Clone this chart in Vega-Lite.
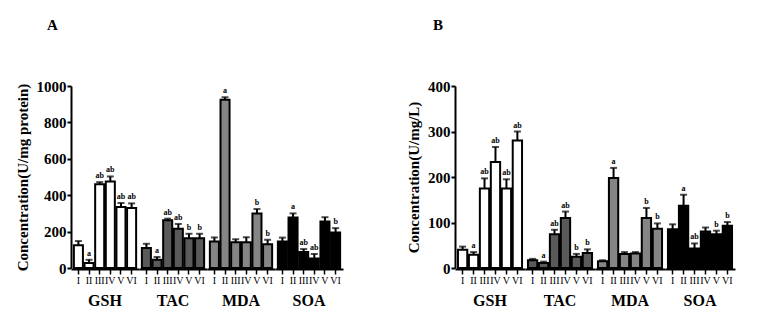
{
  "$schema": "https://vega.github.io/schema/vega-lite/v6.json",
  "background": "white",
  "padding": {"left": 15, "top": 18, "right": 2, "bottom": 5},
  "datasets": {
    "a": [
      {"group": "GSH", "bar": "I", "value": 125, "hi": 148, "sig": ""},
      {"group": "GSH", "bar": "II", "value": 28, "hi": 45, "sig": "a"},
      {"group": "GSH", "bar": "III", "value": 460, "hi": 472, "sig": "ab"},
      {"group": "GSH", "bar": "IV", "value": 475, "hi": 503, "sig": "ab"},
      {"group": "GSH", "bar": "V", "value": 335, "hi": 357, "sig": "ab"},
      {"group": "GSH", "bar": "VI", "value": 330, "hi": 355, "sig": "ab"},
      {"group": "TAC", "bar": "I", "value": 110, "hi": 133, "sig": ""},
      {"group": "TAC", "bar": "II", "value": 45, "hi": 60, "sig": "a"},
      {"group": "TAC", "bar": "III", "value": 262, "hi": 271, "sig": "ab"},
      {"group": "TAC", "bar": "IV", "value": 215, "hi": 242, "sig": "ab"},
      {"group": "TAC", "bar": "V", "value": 163, "hi": 188, "sig": "b"},
      {"group": "TAC", "bar": "VI", "value": 163, "hi": 188, "sig": "b"},
      {"group": "MDA", "bar": "I", "value": 145, "hi": 168, "sig": ""},
      {"group": "MDA", "bar": "II", "value": 925, "hi": 938, "sig": "a"},
      {"group": "MDA", "bar": "III", "value": 142, "hi": 158, "sig": ""},
      {"group": "MDA", "bar": "IV", "value": 142, "hi": 169, "sig": ""},
      {"group": "MDA", "bar": "V", "value": 300, "hi": 324, "sig": "b"},
      {"group": "MDA", "bar": "VI", "value": 130, "hi": 155, "sig": "b"},
      {"group": "SOA", "bar": "I", "value": 145, "hi": 167, "sig": ""},
      {"group": "SOA", "bar": "II", "value": 278, "hi": 300, "sig": "a"},
      {"group": "SOA", "bar": "III", "value": 88, "hi": 104, "sig": "ab"},
      {"group": "SOA", "bar": "IV", "value": 52, "hi": 77, "sig": "ab"},
      {"group": "SOA", "bar": "V", "value": 255, "hi": 279, "sig": ""},
      {"group": "SOA", "bar": "VI", "value": 195, "hi": 219, "sig": "b"}
    ],
    "b": [
      {"group": "GSH", "bar": "I", "value": 40, "hi": 47, "sig": ""},
      {"group": "GSH", "bar": "II", "value": 29, "hi": 35, "sig": "a"},
      {"group": "GSH", "bar": "III", "value": 175, "hi": 197, "sig": "ab"},
      {"group": "GSH", "bar": "IV", "value": 233, "hi": 266, "sig": "ab"},
      {"group": "GSH", "bar": "V", "value": 175, "hi": 195, "sig": "ab"},
      {"group": "GSH", "bar": "VI", "value": 280, "hi": 300, "sig": "ab"},
      {"group": "TAC", "bar": "I", "value": 17, "hi": 20, "sig": ""},
      {"group": "TAC", "bar": "II", "value": 11, "hi": 14, "sig": "a"},
      {"group": "TAC", "bar": "III", "value": 74, "hi": 84, "sig": "ab"},
      {"group": "TAC", "bar": "IV", "value": 110, "hi": 124, "sig": "ab"},
      {"group": "TAC", "bar": "V", "value": 25, "hi": 31, "sig": "b"},
      {"group": "TAC", "bar": "VI", "value": 33, "hi": 41, "sig": "b"},
      {"group": "MDA", "bar": "I", "value": 15, "hi": 17, "sig": ""},
      {"group": "MDA", "bar": "II", "value": 198, "hi": 220, "sig": "a"},
      {"group": "MDA", "bar": "III", "value": 31, "hi": 35, "sig": ""},
      {"group": "MDA", "bar": "IV", "value": 32, "hi": 35, "sig": ""},
      {"group": "MDA", "bar": "V", "value": 110, "hi": 132, "sig": "b"},
      {"group": "MDA", "bar": "VI", "value": 86, "hi": 98, "sig": "b"},
      {"group": "SOA", "bar": "I", "value": 85, "hi": 96, "sig": ""},
      {"group": "SOA", "bar": "II", "value": 137, "hi": 161, "sig": "a"},
      {"group": "SOA", "bar": "III", "value": 43, "hi": 54, "sig": "ab"},
      {"group": "SOA", "bar": "IV", "value": 80, "hi": 89, "sig": ""},
      {"group": "SOA", "bar": "V", "value": 74, "hi": 82, "sig": "b"},
      {"group": "SOA", "bar": "VI", "value": 93, "hi": 101, "sig": "b"}
    ]
  },
  "hconcat": [
    {
      "data": {"name": "a"},
      "title": {"text": "A", "anchor": "start", "frame": "group", "dx": -24, "offset": 46, "fontSize": 15, "font": "Liberation Serif", "fontWeight": "bold"},
      "facet": {
        "column": {
          "field": "group", "type": "nominal", "sort": ["GSH", "TAC", "MDA", "SOA"],
          "header": {"title": null, "labelOrient": "bottom", "labelPadding": 8, "labelFont": "Liberation Serif", "labelFontWeight": "bold", "labelFontSize": 16, "labelColor": "black"}
        }
      },
      "spacing": 0,
      "spec": {
        "width": 68, "height": 182,
        "encoding": {
          "x": {"field": "bar", "type": "nominal", "sort": ["I", "II", "III", "IV", "V", "VI"],
                "scale": {"paddingInner": 0.15, "paddingOuter": 0.27},
                "axis": {"title": null, "labelAngle": 0}}
        },
        "layer": [
          {
            "mark": {"type": "bar", "stroke": "black", "strokeWidth": 2},
            "encoding": {
              "y": {"field": "value", "type": "quantitative", "scale": {"domain": [0, 1000]},
                    "axis": {"title": "Concentration(U/mg protein)", "values": [0, 200, 400, 600, 800, 1000], "format": "d", "grid": false, "labelOverlap": false}},
              "fill": {"field": "group", "type": "nominal", "scale": {"domain": ["GSH", "TAC", "MDA", "SOA"], "range": ["white", "#5a5a5a", "#858585", "black"]}, "legend": null}
            }
          },
          {
            "mark": {"type": "rule", "color": "black", "strokeWidth": 2},
            "encoding": {"y": {"field": "value", "type": "quantitative",
                    "axis": {"title": "Concentration(U/mg protein)", "values": [0, 200, 400, 600, 800, 1000], "format": "d", "grid": false, "labelOverlap": false}}, "y2": {"field": "hi"}}
          },
          {
            "mark": {"type": "tick", "color": "black", "thickness": 2, "size": 7},
            "encoding": {"y": {"field": "hi", "type": "quantitative",
                    "axis": {"title": "Concentration(U/mg protein)", "values": [0, 200, 400, 600, 800, 1000], "format": "d", "grid": false, "labelOverlap": false}}}
          },
          {
            "mark": {"type": "text", "baseline": "bottom", "dy": -2, "fontSize": 8, "fontWeight": "bold", "font": "Liberation Serif", "color": "black"},
            "encoding": {"y": {"field": "hi", "type": "quantitative",
                    "axis": {"title": "Concentration(U/mg protein)", "values": [0, 200, 400, 600, 800, 1000], "format": "d", "grid": false, "labelOverlap": false}}, "text": {"field": "sig"}}
          }
        ]
      }
    },
    {
      "data": {"name": "b"},
      "title": {"text": "B", "anchor": "start", "frame": "group", "dx": -22, "offset": 46, "fontSize": 15, "font": "Liberation Serif", "fontWeight": "bold"},
      "facet": {
        "column": {
          "field": "group", "type": "nominal", "sort": ["GSH", "TAC", "MDA", "SOA"],
          "header": {"title": null, "labelOrient": "bottom", "labelPadding": 8, "labelFont": "Liberation Serif", "labelFontWeight": "bold", "labelFontSize": 16, "labelColor": "black"}
        }
      },
      "spacing": 0,
      "spec": {
        "width": 70, "height": 182,
        "encoding": {
          "x": {"field": "bar", "type": "nominal", "sort": ["I", "II", "III", "IV", "V", "VI"],
                "scale": {"paddingInner": 0.15, "paddingOuter": 0.27},
                "axis": {"title": null, "labelAngle": 0}}
        },
        "layer": [
          {
            "mark": {"type": "bar", "stroke": "black", "strokeWidth": 2},
            "encoding": {
              "y": {"field": "value", "type": "quantitative", "scale": {"domain": [0, 400]},
                    "axis": {"title": "Concentration(U/mg/L)", "values": [0, 100, 200, 300, 400], "grid": false, "labelOverlap": false}},
              "fill": {"field": "group", "type": "nominal", "scale": {"domain": ["GSH", "TAC", "MDA", "SOA"], "range": ["white", "#5a5a5a", "#858585", "black"]}, "legend": null}
            }
          },
          {
            "mark": {"type": "rule", "color": "black", "strokeWidth": 2},
            "encoding": {"y": {"field": "value", "type": "quantitative",
                    "axis": {"title": "Concentration(U/mg/L)", "values": [0, 100, 200, 300, 400], "grid": false, "labelOverlap": false}}, "y2": {"field": "hi"}}
          },
          {
            "mark": {"type": "tick", "color": "black", "thickness": 2, "size": 7},
            "encoding": {"y": {"field": "hi", "type": "quantitative",
                    "axis": {"title": "Concentration(U/mg/L)", "values": [0, 100, 200, 300, 400], "grid": false, "labelOverlap": false}}}
          },
          {
            "mark": {"type": "text", "baseline": "bottom", "dy": -2, "fontSize": 8, "fontWeight": "bold", "font": "Liberation Serif", "color": "black"},
            "encoding": {"y": {"field": "hi", "type": "quantitative",
                    "axis": {"title": "Concentration(U/mg/L)", "values": [0, 100, 200, 300, 400], "grid": false, "labelOverlap": false}}, "text": {"field": "sig"}}
          }
        ]
      }
    }
  ],
  "spacing": 63,
  "config": {
    "view": {"stroke": null},
    "font": "Liberation Serif",
    "axis": {
      "domainColor": "black", "domainWidth": 2, "tickColor": "black", "tickWidth": 2, "tickSize": 4,
      "labelColor": "black", "titleColor": "black", "labelFont": "Liberation Serif", "titleFont": "Liberation Serif"
    },
    "axisY": {"labelFontSize": 15, "labelFontWeight": "bold", "titleFontSize": 15, "titleFontWeight": "bold", "labelPadding": 1, "titlePadding": 6},
    "axisX": {"labelFontSize": 10, "labelPadding": 1, "tickSize": 5, "tickWidth": 1.5}
  }
}
